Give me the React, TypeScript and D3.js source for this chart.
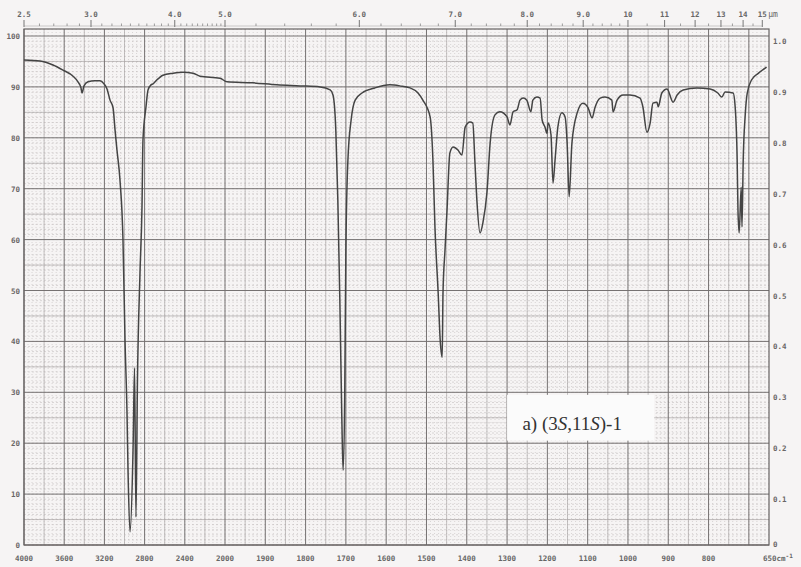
import React, { useRef, useEffect } from 'react'
import * as d3 from "d3";

// spectrum: wavenumber (cm-1) and transmittance (%)
const wavenumbers = [
    4000, 3841, 3711, 3612, 3512, 3463, 3433, 3423, 3403, 3363, 3294, 3244, 3204, 3174, 3144, 3114,
    3094, 3075, 3045, 3015, 2995, 2975, 2965, 2945, 2915, 2900, 2886, 2871, 2846, 2826, 2816, 2786,
    2766, 2736, 2716, 2677, 2617, 2517, 2418, 2318, 2249, 2050, 1995, 1931, 1871, 1814, 1764, 1739,
    1732, 1725, 1720, 1715, 1710, 1707, 1703, 1700, 1695, 1687, 1677, 1660, 1628, 1591, 1566, 1541,
    1521, 1509, 1491, 1484, 1479, 1471, 1466, 1461, 1459, 1454, 1449, 1442, 1434, 1422, 1412, 1404,
    1392, 1385, 1380, 1375, 1367, 1360, 1350, 1342, 1330, 1318, 1300, 1293, 1285, 1275, 1268, 1260,
    1251, 1241, 1236, 1226, 1218, 1213, 1206, 1201, 1198, 1191, 1186, 1181, 1174, 1164, 1156, 1151,
    1146, 1139, 1126, 1112, 1099, 1089, 1082, 1069, 1057, 1040, 1037, 1027, 1012, 995, 970, 963,
    953, 945, 938, 928, 925, 916, 903, 888, 878, 863, 829, 796, 777, 767, 759, 739,
    734, 729, 727, 724, 719, 717, 714, 709, 704, 693, 676, 656
];
const transmittance = [
    95.3, 95.1, 94.3, 93.3, 92.1, 91.0, 89.8, 88.8, 90.2, 91.0, 91.2, 91.2, 90.6, 89.6, 87.4, 85.9,
    81.5, 77.6, 71.7, 59.9, 40.3, 25.9, 14.7, 2.6, 18.7, 34.8, 5.5, 32.4, 53.4, 66.4, 79.6, 86.1,
    89.4, 90.4, 90.6, 91.4, 92.3, 92.7, 92.9, 92.7, 92.1, 91.7, 91.0, 90.8, 90.4, 90.2, 90.0, 89.4,
    88.4, 81.5, 67.8, 48.1, 24.6, 14.7, 28.5, 58.0, 75.6, 83.5, 87.4, 88.8, 89.8, 90.4, 90.2, 89.8,
    88.8, 87.4, 84.1, 75.6, 62.5, 49.5, 40.3, 36.9, 49.5, 58.0, 65.8, 77.0, 78.2, 77.6, 76.6, 82.1,
    83.1, 82.9, 75.6, 67.8, 61.3, 63.3, 69.2, 79.0, 84.5, 85.1, 84.1, 82.5, 85.1, 85.5, 87.4, 87.8,
    87.4, 85.1, 87.4, 88.0, 87.8, 83.5, 82.1, 80.9, 82.9, 80.6, 71.1, 75.6, 82.1, 84.9, 84.1, 79.0,
    68.4, 79.0, 84.9, 86.8, 85.9, 83.9, 85.9, 87.8, 88.0, 87.4, 85.1, 87.4, 88.4, 88.4, 87.8, 86.1,
    81.1, 82.9, 86.8, 87.0, 86.1, 88.8, 89.6, 87.0, 88.4, 89.4, 89.8, 89.6, 88.8, 88.0, 89.0, 88.8,
    86.1, 75.6, 65.8, 61.3, 70.3, 62.5, 75.6, 84.5, 88.8, 91.4, 92.7, 93.9
];

const bottomTicks = [4000, 3600, 3200, 2800, 2400, 2000, 1900, 1800, 1700, 1600, 1500, 1400, 1300, 1200, 1100, 1000, 900, 800];
const majorGridWn = [4000, 3600, 3200, 2800, 2400, 2000, 1900, 1800, 1700, 1600, 1500, 1400, 1300, 1200, 1100, 1000, 900, 800, 700];
const topTicks = [2.5, 3.0, 4.0, 5.0, 6.0, 7.0, 8.0, 9.0, 10, 11, 12, 13, 14, 15];
const topTickLabels = ["2.5", "3.0", "4.0", "5.0", "6.0", "7.0", "8.0", "9.0", "10", "11", "12", "13", "14", "15"];
const leftTicks = [0, 10, 20, 30, 40, 50, 60, 70, 80, 90, 100];
const rightTickLabels = ["0", "0.1", "0.2", "0.3", "0.4", "0.5", "0.6", "0.7", "0.8", "0.9", "1.0"];
const sampleLabel = ["a) (3", "S", ",11", "S", ")-1"];

function App() {
    const ref = useRef();

    useEffect(() => {
        const svg = d3.select(ref.current);
        svg.selectAll("*").remove();

        const W = 801, H = 567;
        svg.attr("width", W).attr("height", H);

        // chart paper has two linear sections
        const x = d3.scaleLinear().domain([4000, 2000, 650]).range([24, 225, 769]);
        const y = d3.scaleLinear().domain([0, 100]).range([545, 36]);
        const frameTop = 29;

        svg.append("rect").attr("width", W).attr("height", H).attr("fill", "#f6f4f4");

        const grid = svg.append("g");

        // minor vertical grid
        const minorV = [];
        for (let w = 4000; w > 2000; w -= 40) minorV.push(w);
        for (let w = 2000; w > 650; w -= 10) minorV.push(w);
        grid.selectAll(".mv").data(minorV).enter().append("line")
            .attr("x1", d => x(d)).attr("x2", d => x(d))
            .attr("y1", frameTop).attr("y2", y(0))
            .attr("stroke", "#c4c0c0").attr("stroke-width", 0.6)
            .attr("stroke-dasharray", "1,2");

        // minor horizontal grid
        const minorH = d3.range(0, 100, 1);
        grid.selectAll(".mh").data(minorH).enter().append("line")
            .attr("x1", x(4000)).attr("x2", x(650))
            .attr("y1", d => y(d)).attr("y2", d => y(d))
            .attr("stroke", "#c4c0c0").attr("stroke-width", 0.6)
            .attr("stroke-dasharray", "2,2");

        // medium lines
        const midV = [];
        for (let w = 3800; w > 2000; w -= 400) midV.push(w);
        for (let w = 1950; w > 650; w -= 100) midV.push(w);
        grid.selectAll(".dv").data(midV).enter().append("line")
            .attr("x1", d => x(d)).attr("x2", d => x(d))
            .attr("y1", frameTop).attr("y2", y(0))
            .attr("stroke", "#aaa6a6").attr("stroke-width", 0.7);
        grid.selectAll(".dh").data(d3.range(5, 100, 10)).enter().append("line")
            .attr("x1", x(4000)).attr("x2", x(650))
            .attr("y1", d => y(d)).attr("y2", d => y(d))
            .attr("stroke", "#aaa6a6").attr("stroke-width", 0.7);

        // major lines
        grid.selectAll(".jv").data(majorGridWn).enter().append("line")
            .attr("x1", d => x(d)).attr("x2", d => x(d))
            .attr("y1", frameTop).attr("y2", y(0))
            .attr("stroke", "#767272").attr("stroke-width", 1);
        grid.selectAll(".jh").data(leftTicks).enter().append("line")
            .attr("x1", x(4000)).attr("x2", x(650))
            .attr("y1", d => y(d)).attr("y2", d => y(d))
            .attr("stroke", "#767272").attr("stroke-width", 1);

        // frame
        svg.append("rect")
            .attr("x", x(4000)).attr("y", frameTop)
            .attr("width", x(650) - x(4000)).attr("height", y(0) - frameTop)
            .attr("fill", "none").attr("stroke", "#666262").attr("stroke-width", 1.2);

        // spectrum
        const line = d3.line()
            .x(d => x(d[0]))
            .y(d => y(d[1]))
            .curve(d3.curveMonotoneX);
        const pts = wavenumbers.map((w, i) => [w, transmittance[i]]);
        svg.append("path")
            .attr("d", line(pts))
            .attr("fill", "none")
            .attr("stroke", "#444")
            .attr("stroke-width", 1.5)
            .attr("stroke-linejoin", "round");

        const font = "'DejaVu Sans Mono', monospace";

        // bottom axis labels
        svg.selectAll(".bt").data(bottomTicks).enter().append("text")
            .attr("x", d => x(d)).attr("y", 561)
            .attr("text-anchor", "middle")
            .style("font-family", font).style("font-size", "7.5px").style("font-weight", "bold")
            .attr("fill", "#666")
            .text(d => d);
        const endLbl = svg.append("text")
            .attr("x", x(650) - 6).attr("y", 561)
            .style("font-family", font).style("font-size", "7.5px").style("font-weight", "bold")
            .attr("fill", "#666");
        endLbl.append("tspan").text("650cm");
        endLbl.append("tspan").attr("dy", -3).style("font-size", "6px").text("-1");

        // left labels
        svg.selectAll(".lt").data(leftTicks).enter().append("text")
            .attr("x", 20).attr("y", d => y(d) + 3)
            .attr("text-anchor", "end")
            .style("font-family", font).style("font-size", "7.5px").style("font-weight", "bold")
            .attr("fill", "#6a6666")
            .text(d => d);

        // right labels (absorbance style)
        svg.selectAll(".rt").data(leftTicks).enter().append("text")
            .attr("x", 773).attr("y", (d, i) => y(d) + (i === 0 ? 2 : 8))
            .style("font-family", font).style("font-size", "7.5px").style("font-weight", "bold")
            .attr("fill", "#6a6666")
            .text((d, i) => rightTickLabels[i]);

        // top micrometre axis
        const um = v => x(10000 / v);
        svg.append("line")
            .attr("x1", um(2.5)).attr("x2", um(15)).attr("y1", 26).attr("y2", 26)
            .attr("stroke", "#b0acac").attr("stroke-width", 0.6);
        const minorUm = [];
        for (let v = 2.6; v < 5; v += 0.1) minorUm.push(+v.toFixed(1));
        for (let v = 5.2; v < 10; v += 0.2) minorUm.push(+v.toFixed(1));
        for (let v = 10.5; v < 15; v += 0.5) minorUm.push(+v.toFixed(1));
        svg.selectAll(".mu").data(minorUm.filter(v => !topTicks.includes(v))).enter().append("line")
            .attr("x1", d => um(d)).attr("x2", d => um(d))
            .attr("y1", 23.5).attr("y2", 26)
            .attr("stroke", "#888").attr("stroke-width", 0.8);
        svg.selectAll(".tu").data(topTicks).enter().append("line")
            .attr("x1", d => um(d)).attr("x2", d => um(d))
            .attr("y1", 20).attr("y2", 27)
            .attr("stroke", "#777").attr("stroke-width", 1);
        svg.selectAll(".tl").data(topTicks).enter().append("text")
            .attr("x", d => um(d)).attr("y", 17)
            .attr("text-anchor", "middle")
            .style("font-family", font).style("font-size", "7.5px").style("font-weight", "bold")
            .attr("fill", "#666")
            .text((d, i) => topTickLabels[i]);
        svg.append("text")
            .attr("x", um(15) + 6).attr("y", 17)
            .style("font-family", font).style("font-size", "8px")
            .attr("fill", "#666")
            .text("μm");

        // sample label box
        svg.append("rect")
            .attr("x", x(1300)).attr("y", y(29.5))
            .attr("width", x(935) - x(1300)).attr("height", y(20.5) - y(29.5))
            .attr("fill", "#fbfbfb");
        const lbl = svg.append("text")
            .attr("x", x(1262)).attr("y", y(22.6))
            .style("font-family", "'Liberation Serif', 'DejaVu Serif', serif")
            .style("font-size", "19px")
            .attr("fill", "#333");
        sampleLabel.forEach((s, i) => {
            lbl.append("tspan").style("font-style", i % 2 === 1 ? "italic" : "normal").text(s);
        });
    }, []);

    return (
        <div style={{ position: "absolute", left: 0, top: 0 }}>
            <svg ref={ref}></svg>
        </div>
    )
}

export default App
